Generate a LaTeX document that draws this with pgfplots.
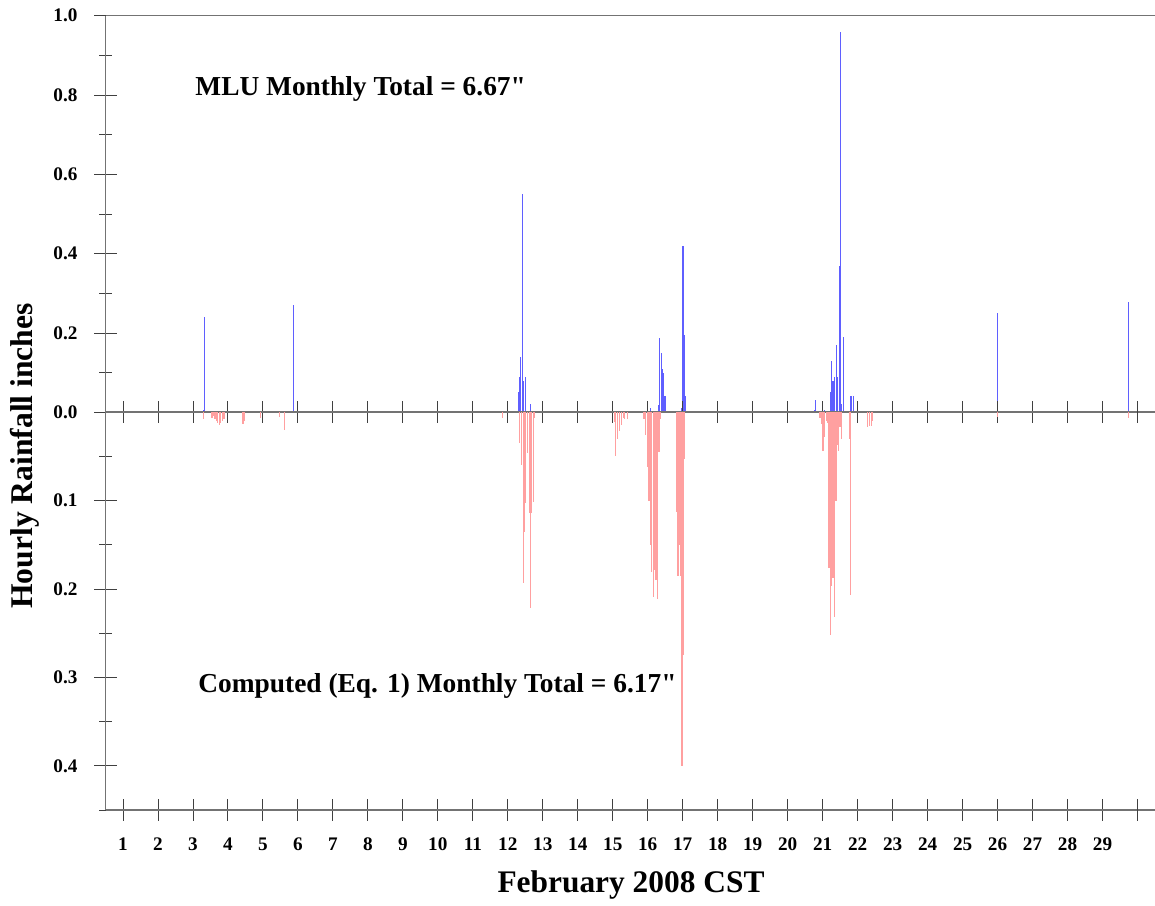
\documentclass[border=0pt]{standalone}
\usepackage{pgfplots}
\usepackage{pgfplotstable}
\pgfplotsset{compat=1.18}
\usepackage{fontspec}
\setmainfont{Liberation Serif}
\definecolor{bluebar}{RGB}{95,95,255}
\definecolor{redbar}{RGB}{255,160,160}
\definecolor{axgray}{RGB}{115,115,115}

\pgfplotstableread{
d v
3.300 0.005
3.334 0.240
5.886 0.270
12.294 0.050
12.334 0.090
12.371 0.140
12.417 0.550
12.457 0.080
12.506 0.090
12.637 0.020
16.077 0.011
16.306 0.019
16.343 0.187
16.391 0.149
16.420 0.109
16.457 0.099
16.494 0.040
16.963 0.011
17.009 0.420
17.049 0.196
17.086 0.040
20.771 0.007
20.800 0.030
21.057 0.007
21.229 0.050
21.257 0.130
21.294 0.080
21.343 0.090
21.391 0.170
21.420 0.090
21.477 0.369
21.514 0.959
21.551 0.020
21.600 0.190
21.809 0.040
21.886 0.040
26.009 0.250
29.751 0.279
}\bluedata

\pgfplotstableread{
d v
3.314 0.008
3.543 0.006
3.586 0.004
3.629 0.008
3.671 0.010
3.714 0.012
3.757 0.014
3.800 0.012
3.843 0.010
3.886 0.008
4.429 0.013
4.471 0.010
4.943 0.006
5.486 0.005
5.629 0.020
11.837 0.006
12.343 0.035
12.386 0.060
12.437 0.193
12.477 0.136
12.514 0.103
12.563 0.046
12.614 0.114
12.643 0.222
12.677 0.114
12.723 0.101
12.771 0.006
15.057 0.011
15.086 0.049
15.134 0.030
15.191 0.021
15.249 0.014
15.306 0.006
15.343 0.008
15.409 0.008
15.894 0.008
15.934 0.026
16.000 0.062
16.037 0.100
16.066 0.128
16.094 0.150
16.114 0.181
16.163 0.209
16.200 0.179
16.237 0.190
16.277 0.211
16.323 0.045
16.371 0.008
16.829 0.113
16.866 0.185
16.906 0.150
16.943 0.185
16.980 0.400
17.020 0.275
17.057 0.053
20.923 0.007
20.963 0.013
21.009 0.044
21.057 0.028
21.114 0.010
21.151 0.012
21.180 0.176
21.220 0.252
21.249 0.196
21.286 0.187
21.323 0.187
21.351 0.232
21.380 0.100
21.420 0.037
21.457 0.044
21.494 0.017
21.534 0.030
21.763 0.030
21.800 0.207
22.294 0.017
22.351 0.015
22.391 0.015
22.437 0.010
26.009 0.005
29.734 0.007
}\reddata

\pgfplotsset{
  common/.style={
    scale only axis,
    width=524.75pt,
    xmin=0.5, xmax=30.5,
    axis x line*=box,
    axis y line*=left,
    axis line style={draw=axgray, line width=0.8pt},
    tick align=center,
    major tick length=11pt,
    minor tick length=6pt,
    tick style={draw=black!75, line width=0.45pt},
    ytick pos=left,
    ticklabel style={font=\fontsize{9.6}{11}\selectfont\bfseries},
    yticklabel style={xshift=-5pt},
    xticklabel style={yshift=-5pt},
    /pgf/number format/assume math mode=true,
    clip=false,
  }
}

\begin{document}
\begin{tikzpicture}
\useasboundingbox (0,0) rectangle (577.5pt,452.5pt);
\coordinate (O) at (52.75pt,246.35pt);

% upper axis: observed
\begin{axis}[common,
  at={(O)}, anchor=south west,
  height=198.3pt,
  ymin=0, ymax=1,
  xtick=\empty,
  ytick={0,0.2,0.4,0.6,0.8,1},
  minor ytick={0.1,0.3,0.5,0.7,0.9},
  yticklabel style={/pgf/number format/.cd, fixed, fixed zerofill, precision=1},
]
\addplot[ycomb, no marks, draw=bluebar, line width=0.55pt] table[x=d, y=v] {\bluedata};
\end{axis}

% lower axis: computed
\begin{axis}[common,
  at={(O)}, anchor=north west,
  height=198.85pt,
  ymin=-0.45, ymax=0,
  xtick={1,...,29},
  extra x ticks={30},
  extra x tick labels={},
  ytick={-0.4,-0.3,-0.2,-0.1},
  yticklabels={0.4,0.3,0.2,0.1},
  minor ytick={-0.45,-0.35,-0.25,-0.15,-0.05},
]
\addplot[ycomb, no marks, draw=redbar, line width=0.55pt] table[x=d, y expr=-\thisrow{v}] {\reddata};
\end{axis}

\node[rotate=90, font=\fontsize{15.8}{18}\selectfont\bfseries] at (12.5pt,224.5pt) {Hourly Rainfall inches};
\node[font=\fontsize{15.7}{18}\selectfont\bfseries] at (315.5pt,10pt) {February 2008 CST};
\node[anchor=west, inner sep=0pt, font=\fontsize{13.7}{16}\selectfont\bfseries] at (97.5pt,408pt) {MLU Monthly Total = 6.67\textquotedbl};
\node[anchor=west, inner sep=0pt, font=\fontsize{13.7}{16}\selectfont\bfseries] at (99pt,109.5pt) {Computed (Eq. 1) Monthly Total = 6.17\textquotedbl};
\end{tikzpicture}
\end{document}
